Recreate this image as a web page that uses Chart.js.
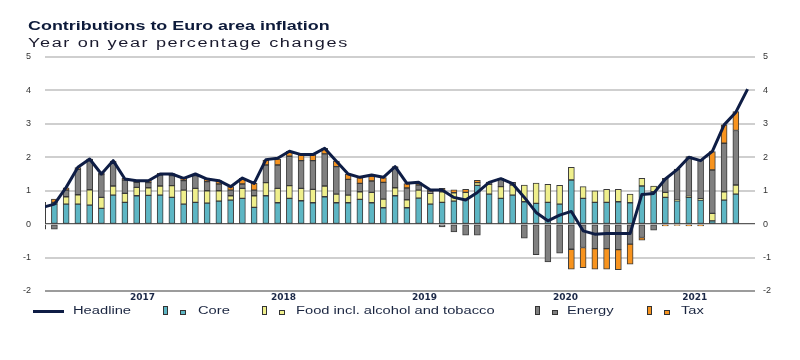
<!DOCTYPE html>
<html><head><meta charset="utf-8">
<script src="https://cdn.jsdelivr.net/npm/chart.js@4.4.1/dist/chart.umd.min.js"></script>
<style>
html,body{margin:0;padding:0;background:#fff;}
#wrap{position:relative;width:800px;height:360px;overflow:hidden;font-family:"Liberation Sans",Arial,sans-serif;}
#c{position:absolute;left:0;top:0;}
.t{position:absolute;white-space:nowrap;transform-origin:0 0;line-height:1;}
.sq{position:absolute;border:1px solid #333;box-sizing:border-box;}
</style></head><body>
<div id="wrap">
<canvas id="c" width="800" height="360"></canvas>
<div class="t" style="left:28px;top:20px;font-size:12.8px;font-weight:bold;color:#0d1a3a;transform:scaleX(1.4)">Contributions to Euro area inflation</div>
<div class="t" style="left:28px;top:37px;font-size:12.5px;color:#1a1a2e;letter-spacing:1.1px;transform:scaleX(1.45)">Year on year percentage changes</div>
<div id="legend"></div>
</div>
<script>
const months = ['Oct 2016','Nov 2016','Dec 2016',
 'Jan 2017','Feb 2017','Mar 2017','Apr 2017','May 2017','Jun 2017','Jul 2017','Aug 2017','Sep 2017','Oct 2017','Nov 2017','Dec 2017',
 'Jan 2018','Feb 2018','Mar 2018','Apr 2018','May 2018','Jun 2018','Jul 2018','Aug 2018','Sep 2018','Oct 2018','Nov 2018','Dec 2018',
 'Jan 2019','Feb 2019','Mar 2019','Apr 2019','May 2019','Jun 2019','Jul 2019','Aug 2019','Sep 2019','Oct 2019','Nov 2019','Dec 2019',
 'Jan 2020','Feb 2020','Mar 2020','Apr 2020','May 2020','Jun 2020','Jul 2020','Aug 2020','Sep 2020','Oct 2020','Nov 2020','Dec 2020',
 'Jan 2021','Feb 2021','Mar 2021','Apr 2021','May 2021','Jun 2021','Jul 2021','Aug 2021','Sep 2021','Oct 2021'];

const headline = [0.5,0.6,1.1,1.7,1.95,1.5,1.9,1.35,1.3,1.3,
 1.5,1.5,1.37,1.5,1.35,1.3,1.12,1.38,1.22,1.93,
 1.97,2.18,2.08,2.08,2.27,1.88,1.5,1.4,1.47,1.4,
 1.72,1.22,1.25,1.02,1.02,0.8,0.72,0.95,1.25,1.36,
 1.21,0.8,0.35,0.1,0.27,0.38,-0.2,-0.3,-0.28,-0.28,
 -0.28,0.89,0.92,1.35,1.63,2.0,1.9,2.18,2.97,3.35,4.04];

const core = [0.58,0.6,0.6,0.6,0.57,0.47,0.87,0.65,0.85,0.86,
 0.87,0.8,0.6,0.65,0.63,0.69,0.72,0.77,0.5,0.85,
 0.64,0.77,0.7,0.64,0.82,0.64,0.64,0.74,0.64,0.49,
 0.85,0.49,0.78,0.6,0.65,0.69,0.74,1.16,0.9,0.77,
 0.87,0.67,0.62,0.65,0.6,1.32,0.77,0.65,0.65,0.67,
 0.64,1.14,0.97,0.8,0.7,0.8,0.72,0.1,0.72,0.9,null];

const food = [0.07,0.05,0.22,0.28,0.46,0.33,0.27,0.27,0.25,0.23,
 0.27,0.35,0.42,0.42,0.37,0.31,0.13,0.3,0.35,0.39,
 0.43,0.38,0.37,0.4,0.32,0.26,0.23,0.23,0.31,0.26,
 0.24,0.24,0.24,0.32,0.32,0.25,0.21,0.08,0.29,0.35,
 0.3,0.5,0.61,0.54,0.56,0.38,0.35,0.35,0.39,0.37,
 0.26,0.23,0.17,0.15,0.02,0.03,0.04,0.22,0.25,0.27,null];

const energy = [-0.15,-0.15,0.2,0.76,0.87,0.68,0.7,0.4,0.15,0.15,
 0.33,0.3,0.28,0.38,0.27,0.2,0.17,0.13,0.17,0.53,
 0.7,0.88,0.83,0.86,0.96,0.82,0.47,0.25,0.34,0.5,
 0.61,0.35,0.15,0.05,-0.08,-0.23,-0.33,-0.33,0.07,0.25,
 0.08,-0.42,-0.91,-1.13,-0.87,-0.75,-0.7,-0.73,-0.73,-0.76,
 -0.6,-0.4,-0.18,0.42,0.93,1.19,1.16,1.3,1.45,1.63,null];

const tax = [0,0.1,0.07,0.05,0.05,0.05,0.05,0.05,0.07,0.07,
 0.05,0.06,0.07,0.05,0.07,0.1,0.1,0.17,0.2,0.15,
 0.18,0.15,0.17,0.17,0.17,0.17,0.16,0.17,0.15,0.14,
 0.02,0.13,0.07,0.05,0.1,0.09,0.09,0.07,0,0,
 0,0,0,0,0,-0.6,-0.6,-0.62,-0.62,-0.6,
 -0.6,-0.08,0,-0.05,-0.04,-0.05,-0.05,0.55,0.55,0.57,null];

const yearLabels = ['2017','2018','2019','2020','2021'];
const yTicks = [-2,-1,0,1,2,3,4,5];

// year label positions: centre of the months of each year present in the data
const yearPos = yearLabels.map(y => {
  const idx = months.map((m,i)=>m.endsWith(y)?i:-1).filter(i=>i>=0);
  return (idx[0] + idx[idx.length-1]) / 2;
});

const COLORS = {core:'#5db6c4', food:'#efef8c', energy:'#808080', tax:'#f7931e', line:'#0e1d45'};
const pts = arr => arr.map((v,i)=>({x:i,y:v})).filter(p=>p.y!==null);

function barDs(label, arr, color){
  return {type:'bar', label, data:pts(arr), backgroundColor:color, borderColor:'#3a3a3a',
    borderWidth:1, borderSkipped:false, barThickness:6, stack:'c', order:1, clip:0, yAxisID:'y'};
}

new Chart(document.getElementById('c'), {
  data:{
    datasets:[
      {type:'line', label:'Headline', data:pts(headline), borderColor:COLORS.line, borderWidth:3,
       pointRadius:0, tension:0, stack:'h', order:0, clip:0, yAxisID:'y', borderJoinStyle:'round'},
      barDs('Core', core, COLORS.core),
      barDs('Food incl. alcohol and tobacco', food, COLORS.food),
      barDs('Energy', energy, COLORS.energy),
      barDs('Tax', tax, COLORS.tax)
    ]
  },
  options:{
    responsive:false, animation:false,
    layout:{padding:{left:0,right:0,top:57,bottom:0}},
    plugins:{legend:{display:false}, tooltip:{enabled:false}, title:{display:false}},
    scales:{
      x:{type:'linear', min:0.2, max:60.63, stacked:true, offset:false,
        grid:{display:false, drawTicks:false, offset:false}, border:{display:false},
        afterBuildTicks:s=>{ s.ticks = yearPos.map(v=>({value:v})); },
        afterFit:s=>{ s.height = 69; },
        ticks:{autoSkip:false, maxRotation:0, padding:1, color:'#1b2847',
          font:{family:'"DejaVu Sans"', size:9, weight:'bold'},
          callback:(v,i)=>yearLabels[i]}},
      y:{position:'left', min:-2, max:5, stacked:true,
        afterBuildTicks:s=>{ s.ticks = yTicks.map(v=>({value:v})); },
        afterFit:s=>{ s.width = 45; },
        grid:{drawTicks:false,
          color:c=>c.tick.value===0?'#5a5a5a':(c.tick.value===-2?'#9c9c9c':'#cfcfcf'),
          lineWidth:c=>c.tick.value===0?1.3:2},
        border:{display:false},
        ticks:{padding:14, color:'#333', font:{family:'"Liberation Sans"', size:9}}},
      y2:{position:'right', min:-2, max:5,
        afterBuildTicks:s=>{ s.ticks = yTicks.map(v=>({value:v})); },
        afterFit:s=>{ s.width = 45; },
        grid:{display:false, drawTicks:false}, border:{display:false},
        ticks:{padding:8, color:'#333', font:{family:'"Liberation Sans"', size:9}}}
    }
  }
});

// legend
const legendItems = [
  {label:'Headline', line:true, x:33, tx:73},
  {label:'Core', color:COLORS.core, x:163, tx:198},
  {label:'Food incl. alcohol and tobacco', color:COLORS.food, x:262, tx:296},
  {label:'Energy', color:COLORS.energy, x:535, tx:567},
  {label:'Tax', color:COLORS.tax, x:647, tx:681}
];
const lg = document.getElementById('legend');
legendItems.forEach(it=>{
  if(it.line){
    const d=document.createElement('div');
    d.style.cssText=`position:absolute;left:${it.x}px;top:310px;width:31px;height:3px;background:${COLORS.line}`;
    lg.appendChild(d);
  } else {
    const a=document.createElement('div'); a.className='sq';
    a.style.cssText+=`left:${it.x}px;top:306px;width:5px;height:9px;background:${it.color}`;
    const b=document.createElement('div'); b.className='sq';
    b.style.cssText+=`left:${it.x+17}px;top:310px;width:6px;height:5px;background:${it.color}`;
    lg.appendChild(a); lg.appendChild(b);
  }
  const t=document.createElement('div'); t.className='t'; t.textContent=it.label;
  t.style.cssText+=`left:${it.tx}px;top:306px;font-size:10px;color:#1a2540;transform:scaleX(1.47)`;
  lg.appendChild(t);
});
</script>
</body></html>
